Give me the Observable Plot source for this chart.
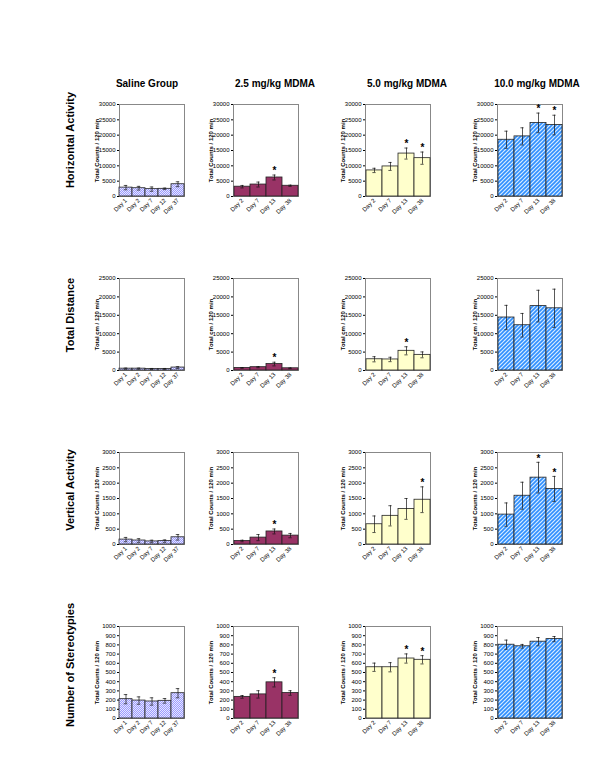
<!DOCTYPE html>
<html><head><meta charset="utf-8">
<script src="https://cdn.jsdelivr.net/npm/d3@7"></script>
<script src="https://cdn.jsdelivr.net/npm/@observablehq/plot@0.6"></script>
<style>
body{margin:0;background:#fff;}
#wrap{position:relative;width:600px;height:776px;font-family:"Liberation Sans",Arial,sans-serif;overflow:hidden;}
.coltitle{position:absolute;font-weight:bold;font-size:10px;transform:translate(-50%,-50%);white-space:nowrap;}
.rowtitle{position:absolute;font-weight:bold;font-size:11px;white-space:nowrap;transform:translate(-50%,-50%) rotate(-90deg);}
.panel{position:absolute;}
.panel svg [aria-label="y-axis label"] text{font-weight:bold;}
</style></head><body>
<svg width="0" height="0" style="position:absolute"><defs>
<pattern id="pSal" width="2" height="2" patternUnits="userSpaceOnUse"><rect width="2" height="2" fill="#e6e6ff"/><rect width="1" height="1" fill="#9c9cff"/><rect x="1" y="1" width="1" height="1" fill="#9c9cff"/></pattern>
<pattern id="pBlue" width="4" height="4" patternUnits="userSpaceOnUse"><rect width="4" height="4" fill="#d6ebff"/><path d="M-1,1 l2,-2 M0,4 l4,-4 M3,5 l2,-2" stroke="#2f8fff" stroke-width="1.6"/></pattern>
</defs></svg>
<div id="wrap"></div>
<script>
const groups = ["Saline Group","2.5 mg/kg MDMA","5.0 mg/kg MDMA","10.0 mg/kg MDMA"];
const measures = ["Horizontal Activity","Total Distance","Vertical Activity","Number of Stereotypies"];
const yTitles = ["Total Counts / 120 min","Total cm / 120 min","Total Counts / 120 min","Total Counts / 120 min"];
const yMax = [30000,25000,3000,1000];
const yStep = [5000,5000,500,100];
const salineDays = ["Day 1","Day 2","Day 7","Day 12","Day 37"];
const mdmaDays = ["Day 2","Day 7","Day 13","Day 38"];

const horizontalMean = [[2900,2700,2400,2500,4000],[3200,3900,6200,3500],[8500,9800,14000,12500],[18500,19600,24000,23300]];
const horizontalErr  = [[700,600,700,250,800],[400,800,800,200],[700,1300,1800,2000],[2800,2800,3200,3200]];
const horizontalSig  = [[0,0,0,0,0],[0,0,1,0],[0,0,1,1],[0,0,1,1]];

const distanceMean = [[500,500,400,400,800],[700,900,1750,600],[3050,3000,5350,4250],[14400,12300,17500,16900]];
const distanceErr  = [[150,150,150,150,250],[100,150,500,100],[700,600,1100,800],[3300,3200,4300,5200]];
const distanceSig  = [[0,0,0,0,0],[0,0,1,0],[0,0,1,0],[0,0,0,0]];

const verticalMean = [[160,130,100,110,235],[115,225,425,290],[660,935,1160,1460],[975,1590,2180,1810]];
const verticalErr  = [[70,60,40,40,90],[25,100,80,70],[270,330,340,420],[380,440,500,410]];
const verticalSig  = [[0,0,0,0,0],[0,0,1,0],[0,0,0,1],[0,0,1,1]];

const stereoMean = [[210,195,185,192,275],[235,262,393,277],[557,557,652,638],[802,785,835,863]];
const stereoErr  = [[50,40,40,25,50],[15,40,50,25],[45,50,50,45],[50,20,45,28]];
const stereoSig  = [[0,0,0,0,0],[0,0,1,0],[0,0,1,1],[0,0,0,0]];

const means = [horizontalMean, distanceMean, verticalMean, stereoMean];
const errs = [horizontalErr, distanceErr, verticalErr, stereoErr];
const sigs = [horizontalSig, distanceSig, verticalSig, stereoSig];
const fills = ["url(#pSal)","#993366","#ffffcc","url(#pBlue)"];

const colLeft = [119, 233, 365, 497];
const titleX = [147, 275, 407, 537];
const rowTop = [104, 278, 452, 626];
const rowMid = [140, 315, 490, 665];
const fw = 65, fh = 92;
const mL = 34, mR = 6, mT = 14, mB = 34;

const wrap = document.getElementById("wrap");
groups.forEach((g, c) => {
  const d = document.createElement("div");
  d.className = "coltitle"; d.textContent = g;
  d.style.left = titleX[c] + "px"; d.style.top = "83px";
  wrap.appendChild(d);
});
measures.forEach((m, r) => {
  const d = document.createElement("div");
  d.className = "rowtitle"; d.textContent = m;
  d.style.left = "70px"; d.style.top = rowMid[r] + "px";
  wrap.appendChild(d);
});

for (let r = 0; r < 4; r++) {
  for (let c = 0; c < 4; c++) {
    const days = c === 0 ? salineDays : mdmaDays;
    const data = days.map((day, i) => ({
      day, mean: means[r][c][i],
      lo: means[r][c][i] - errs[r][c][i],
      hi: means[r][c][i] + errs[r][c][i],
      sig: sigs[r][c][i]
    }));
    const bw = fw / days.length;
    const ins = (bw - 3.5) / 2;
    const ticks = d3.range(0, yMax[r] + 1, yStep[r]);
    const p = Plot.plot({
      width: fw + mL + mR, height: fh + mT + mB,
      marginLeft: mL, marginRight: mR, marginTop: mT, marginBottom: mB,
      style: {fontSize: "6px", fontFamily: "Liberation Sans, Arial, sans-serif", background: "transparent", overflow: "visible", color: "#000"},
      x: {domain: days, padding: 0, label: null},
      y: {domain: [0, yMax[r]], ticks, label: null},
      marks: [
        Plot.frame({stroke: "#888", strokeWidth: 1}),
        Plot.barY(data, {x: "day", y: "mean", fill: fills[c], stroke: "#222", strokeWidth: 0.8}),
        Plot.ruleX(data, {x: "day", y1: "lo", y2: "hi", stroke: "#111", strokeWidth: 0.7}),
        Plot.tickY(data, {x: "day", y: "hi", insetLeft: ins, insetRight: ins, stroke: "#111", strokeWidth: 0.7}),
        Plot.tickY(data, {x: "day", y: "lo", insetLeft: ins, insetRight: ins, stroke: "#111", strokeWidth: 0.7}),
        Plot.text(data.filter(d => d.sig), {x: "day", y: "hi", text: () => "*", dy: -4, fontSize: 10, fontWeight: "bold"}),
        Plot.axisY({ticks, tickSize: 2, tickPadding: 2, tickFormat: d3.format("d"), label: yTitles[r], labelAnchor: "center", labelOffset: 25, labelArrow: "none"}),
        Plot.axisX({tickRotate: -45, tickSize: 0, tickPadding: 3, label: null})
      ]
    });
    const holder = document.createElement("div");
    holder.className = "panel";
    holder.style.left = (colLeft[c] - mL) + "px";
    holder.style.top = (rowTop[r] - mT) + "px";
    holder.appendChild(p);
    wrap.appendChild(holder);
  }
}
</script>
</body></html>
